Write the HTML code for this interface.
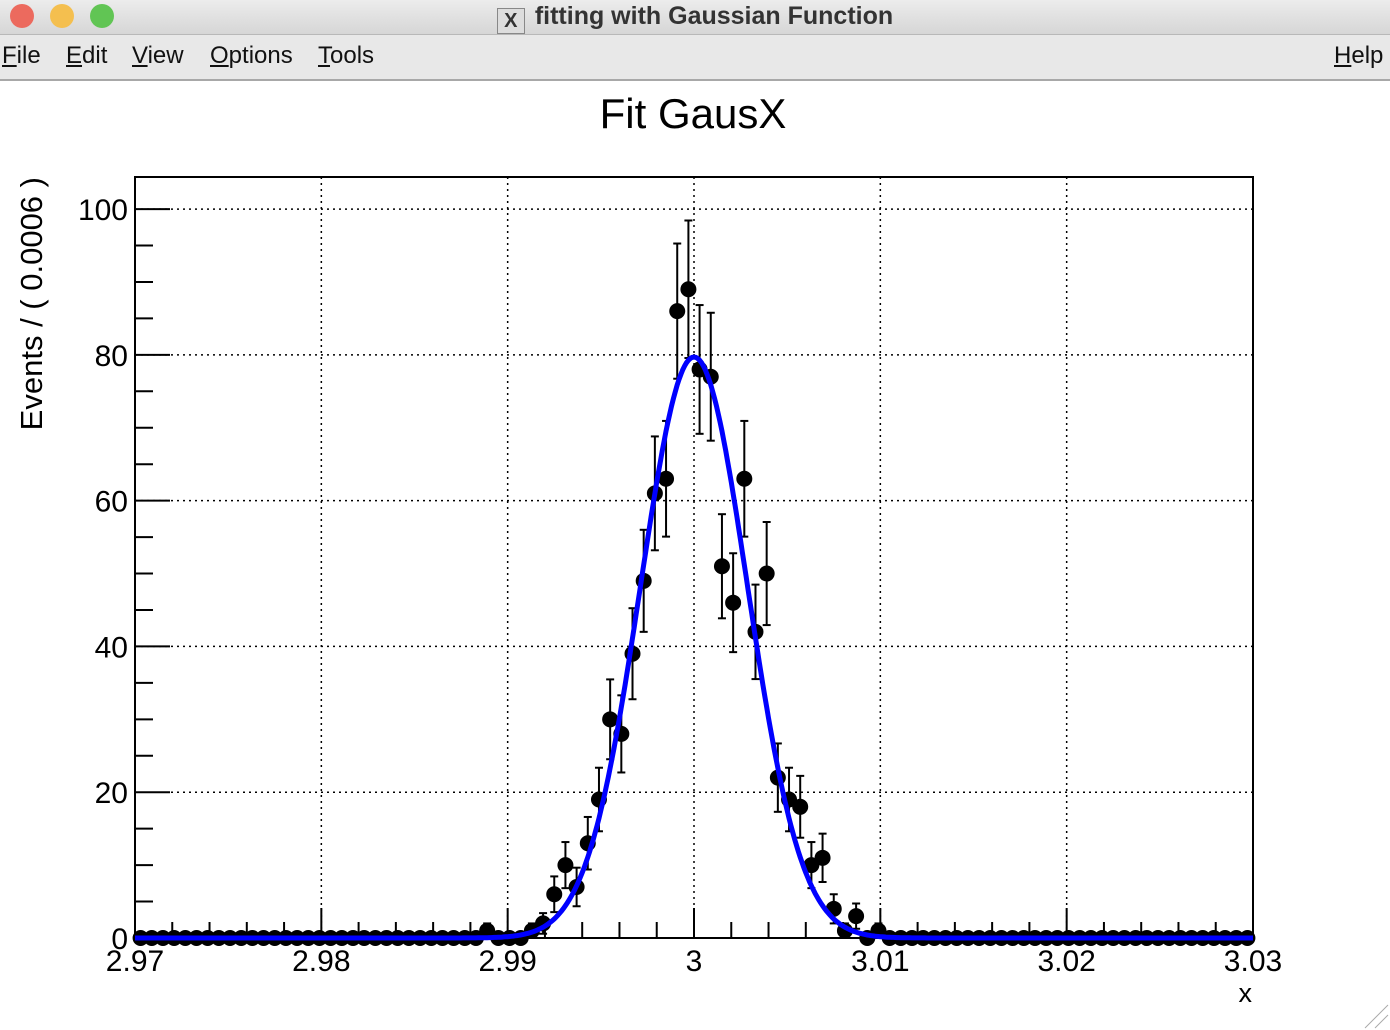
<!DOCTYPE html>
<html><head><meta charset="utf-8">
<style>
body{margin:0;width:1390px;height:1030px;overflow:hidden;background:#fff;font-family:"Liberation Sans",sans-serif;position:relative}
#titlebar{position:absolute;left:0;top:0;width:1390px;height:34px;background:linear-gradient(#ececec,#d6d6d6);border-bottom:1px solid #b8b8b8}
.dot{position:absolute;top:4px;width:24px;height:24px;border-radius:50%}
#wtitle{position:absolute;left:0;width:1390px;top:2px;text-align:center;font-size:25px;font-weight:bold;color:#333}
#menubar{position:absolute;left:0;top:35px;width:1390px;height:44px;background:#e8e8e8;border-bottom:2px solid #a8a8a8}
.menu{position:absolute;top:7px;font-size:24px;color:#111}
.menu u{text-decoration:underline}
</style></head><body>
<div id="titlebar">
<div class="dot" style="left:10px;background:#ec6a5e"></div>
<div class="dot" style="left:50px;background:#f4bf4f"></div>
<div class="dot" style="left:90px;background:#61c554"></div>
<div id="wtitle"><span style="display:inline-block;width:26px;height:24px;border:1px solid #888;background:#ddd;font-size:20px;line-height:24px;vertical-align:-3px;margin-right:10px">X</span>fitting with Gaussian Function</div>
</div>
<div id="menubar">
<span class="menu" style="left:2px"><u>F</u>ile</span>
<span class="menu" style="left:66px"><u>E</u>dit</span>
<span class="menu" style="left:132px"><u>V</u>iew</span>
<span class="menu" style="left:210px"><u>O</u>ptions</span>
<span class="menu" style="left:318px"><u>T</u>ools</span>
<span class="menu" style="left:1334px"><u>H</u>elp</span>
</div>
<svg id="chart" width="1390" height="1030" style="position:absolute;left:0;top:0"></svg>
<script>
const counts=[0,0,0,0,0,0,0,0,0,0,0,0,0,0,0,0,0,0,0,0,0,0,0,0,0,0,0,0,0,0,0,1,0,0,0,1,2,6,10,7,13,19,30,28,39,49,61,63,86,89,78,77,51,46,63,42,50,22,19,18,10,11,4,1,3,0,1,0,0,0,0,0,0,0,0,0,0,0,0,0,0,0,0,0,0,0,0,0,0,0,0,0,0,0,0,0,0,0,0,0];
const xTicks=[2.97,2.98,2.99,3.00,3.01,3.02,3.03];
const xTickLabels=["2.97","2.98","2.99","3","3.01","3.02","3.03"];
const yTicks=[0,20,40,60,80,100];
const fitPeak=[79.7];
const fitMean=[3.0];
const fitSigma=[0.00287];
const xMin=2.97,xMax=3.03,binW=0.0006,yMin=0,yMax=104.4;
const L=135,R=1253,T=177,B=938;
const sx=v=>L+(v-xMin)/(xMax-xMin)*(R-L);
const sy=v=>B-(v-yMin)/(yMax-yMin)*(B-T);
const svg=document.getElementById('chart');
const NS='http://www.w3.org/2000/svg';
function mk(tag,attrs,parent){const e=document.createElementNS(NS,tag);for(const k in attrs)e.setAttribute(k,attrs[k]);(parent||svg).appendChild(e);return e;}
let t=mk('text',{x:693,y:128,'text-anchor':'middle','font-size':42,'font-family':'Liberation Sans, sans-serif',fill:'#000'});
t.textContent='Fit GausX';


const grid=mk('g',{stroke:'#000','stroke-width':1.5,'stroke-dasharray':'2,4'});


xTicks.slice(1,-1).forEach(v=>mk('line',{x1:sx(v),x2:sx(v),y1:T,y2:B},grid));
yTicks.slice(1).forEach(v=>mk('line',{x1:L,x2:R,y1:sy(v),y2:sy(v)},grid));
const fr=mk('rect',{x:L,y:T,width:R-L,height:B-T,fill:'none',stroke:'#000','stroke-width':2});


const tk=mk('g',{stroke:'#000','stroke-width':2});


for(let v=xMin;v<=xMax+1e-9;v+=0.002){const isMaj=Math.abs(Math.round(v*100)-v*100)<1e-6;mk('line',{x1:sx(v),x2:sx(v),y1:B,y2:B-(isMaj?30:16)},tk);}
for(let v=0;v<=yMax;v+=5){const isMaj=v%20===0;mk('line',{x1:L,x2:L+(isMaj?35:18),y1:sy(v),y2:sy(v)},tk);}
xTicks.forEach((v,i)=>{const e=mk('text',{x:sx(v),y:971,'text-anchor':'middle','font-size':30,'font-family':'Liberation Sans, sans-serif'});e.textContent=xTickLabels[i];});
yTicks.forEach(v=>{const e=mk('text',{x:128,y:sy(v)+11,'text-anchor':'end','font-size':30,'font-family':'Liberation Sans, sans-serif'});e.textContent=String(v);});
let xt=mk('text',{x:1252,y:1002,'text-anchor':'end','font-size':27,'font-family':'Liberation Sans, sans-serif'});xt.textContent='x';


let yt=mk('text',{x:0,y:0,'text-anchor':'end','font-size':31,'font-family':'Liberation Sans, sans-serif',transform:'translate(42,177) rotate(-90)'});yt.textContent='Events / ( 0.0006 )';


const pts=mk('g',{fill:'#000',stroke:'#000','stroke-width':2});


counts.forEach((c,i)=>{
 const xc=xMin+binW*(i+0.5),px=sx(xc),py=sy(c);
 if(c>0){const e=Math.sqrt(c);mk('line',{x1:px,x2:px,y1:sy(c+e),y2:sy(Math.max(0,c-e))},pts);mk('line',{x1:px-4,x2:px+4,y1:sy(c+e),y2:sy(c+e)},pts);mk('line',{x1:px-4,x2:px+4,y1:sy(Math.max(0,c-e)),y2:sy(Math.max(0,c-e))},pts);}
 mk('line',{x1:sx(xc-binW/2),x2:sx(xc+binW/2),y1:py,y2:py},pts);
 const m=mk('circle',{cx:px,cy:py,r:7},pts);
 
 
});
let d='';
for(let k=0;k<=600;k++){const x=xMin+(xMax-xMin)*k/600;const y=fitPeak[0]*Math.exp(-0.5*Math.pow((x-fitMean[0])/fitSigma[0],2));d+=(k?'L':'M')+sx(x).toFixed(1)+','+sy(y).toFixed(1);}
const fc=mk('path',{d:d,fill:'none',stroke:'#0000ff','stroke-width':5});


const g=mk('g',{stroke:'#aaa','stroke-width':1});


mk('line',{x1:1365,y1:1028,x2:1388,y2:1005},g);mk('line',{x1:1375,y1:1028,x2:1388,y2:1015},g);
</script>
</body></html>
